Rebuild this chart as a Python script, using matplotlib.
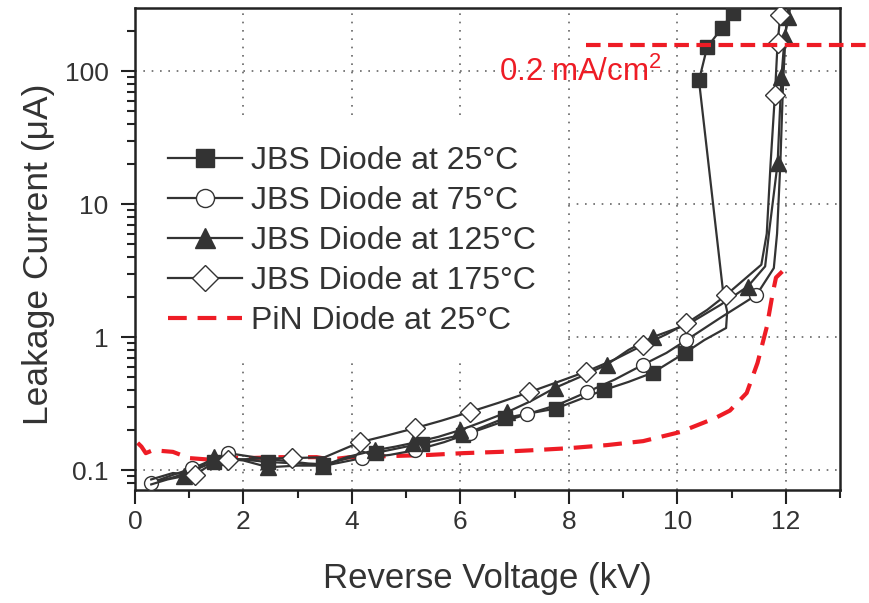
import numpy as np
import matplotlib
matplotlib.use("Agg")
import matplotlib.pyplot as plt
from matplotlib.ticker import LogLocator, NullFormatter

plt.rcParams["font.family"] = ["Liberation Sans", "DejaVu Sans"]
plt.rcParams["mathtext.fontset"] = "custom"
plt.rcParams["mathtext.rm"] = "Liberation Sans"
plt.rcParams["mathtext.it"] = "Liberation Sans:italic"

# reverse voltage (kV) / leakage current (uA)
v25 = [0.30, 0.70, 1.05, 1.45, 1.80, 2.45, 3.00, 3.47, 4.00, 4.45, 5.00, 5.30, 6.05, 6.40, 6.82,
       7.30, 7.76, 8.20, 8.65, 9.10, 9.55, 10.14, 10.50, 10.90, 10.92, 10.85, 10.40, 10.55, 10.82,
       11.02, 11.30]
i25 = [0.080, 0.088, 0.098, 0.115, 0.122, 0.115, 0.112, 0.109, 0.125, 0.135, 0.150, 0.158, 0.185,
       0.210, 0.246, 0.268, 0.290, 0.340, 0.400, 0.460, 0.540, 0.760, 0.950, 1.17, 1.55, 2.10,
       85, 151, 210, 275, 340]
m25 = [3, 5, 7, 9, 11, 12, 14, 16, 18, 20, 21, 26, 27, 28, 29, 30]

v75 = [0.29, 0.70, 1.06, 1.40, 1.72, 2.20, 2.70, 3.20, 3.60, 4.19, 4.70, 5.17, 5.70, 6.18, 6.70,
       7.23, 7.80, 8.33, 8.85, 9.37, 9.80, 10.17, 10.80, 11.46, 11.78, 11.84, 11.90, 11.95, 12.00,
       12.05]
i75 = [0.080, 0.092, 0.103, 0.118, 0.134, 0.125, 0.118, 0.112, 0.110, 0.123, 0.130, 0.141, 0.162,
       0.190, 0.225, 0.263, 0.310, 0.385, 0.480, 0.620, 0.760, 0.950, 1.40, 2.07, 3.3, 6.0, 20,
       80, 200, 320]
m75 = [0, 2, 4, 9, 11, 13, 15, 17, 19, 21, 23]

v125 = [0.30, 0.60, 0.90, 1.20, 1.45, 2.00, 2.46, 3.00, 3.47, 3.90, 4.43, 4.80, 5.13, 5.60, 6.00,
        6.40, 6.86, 7.30, 7.74, 8.20, 8.70, 9.10, 9.55, 10.20, 10.80, 11.30, 11.62, 11.70, 11.85,
        11.92, 11.98, 12.05, 12.10]
i125 = [0.078, 0.085, 0.090, 0.105, 0.125, 0.118, 0.105, 0.108, 0.108, 0.125, 0.141, 0.150, 0.160,
        0.178, 0.200, 0.230, 0.272, 0.330, 0.414, 0.500, 0.620, 0.800, 1.00, 1.25, 1.75, 2.40,
        3.4, 6.5, 20.3, 90, 180, 255, 330]
m125 = [2, 4, 6, 8, 10, 12, 14, 16, 18, 20, 22, 25, 28, 29, 30, 31]

v175 = [0.30, 0.70, 1.10, 1.40, 1.72, 2.30, 2.90, 3.50, 4.15, 4.65, 5.17, 5.65, 6.17, 6.70, 7.27,
        7.80, 8.32, 8.85, 9.37, 9.80, 10.17, 10.55, 10.90, 11.55, 11.65, 11.72, 11.80, 11.85,
        11.90, 11.95]
i175 = [0.085, 0.095, 0.092, 0.110, 0.119, 0.122, 0.123, 0.125, 0.162, 0.182, 0.207, 0.235,
        0.273, 0.320, 0.385, 0.460, 0.550, 0.680, 0.870, 1.05, 1.27, 1.60, 2.07, 3.5, 6.0, 20,
        66, 163, 263, 330]
m175 = [2, 4, 6, 8, 10, 12, 14, 16, 18, 20, 22, 26, 27, 28]

vpin = [0.05, 0.12, 0.20, 0.33, 0.70, 1.00, 1.35, 1.57, 2.07, 2.70, 3.35, 3.60, 3.97, 4.60, 5.44,
        6.05, 6.73, 7.34, 8.00, 8.70, 9.37, 10.05, 10.70, 10.97, 11.28, 11.48, 11.65, 11.76,
        11.82, 12.00]
ipin = [0.160, 0.150, 0.134, 0.141, 0.137, 0.123, 0.120, 0.125, 0.123, 0.125, 0.125, 0.120, 0.125,
        0.127, 0.130, 0.134, 0.137, 0.141, 0.146, 0.154, 0.165, 0.193, 0.246, 0.280, 0.380, 0.640,
        1.19, 2.14, 2.80, 3.30]

limit_current = 157          # 0.2 mA/cm^2 criterion
limit_span = (8.32, 13.55)
limit_text = "0.2 mA/cm$^2$"
limit_text_pos = (6.72, 98)

labels = ["JBS Diode at 25°C", "JBS Diode at 75°C", "JBS Diode at 125°C",
          "JBS Diode at 175°C", "PiN Diode at 25°C"]
x_ticks = [0, 2, 4, 6, 8, 10, 12]
y_ticks = [0.1, 1, 10, 100]
y_tick_labels = ["0.1", "1", "10", "100"]

DARK = "#333333"
RED = "#ee1c25"

fig = plt.figure(figsize=(8.69, 6.03), dpi=100)
ax = fig.add_axes([0.1553, 0.1874, 0.8113, 0.7993])

line_kw = dict(color=DARK, lw=1.6, mec=DARK, mew=1.0, zorder=3)
ax.plot(v25, i25, marker="s", ms=9.5, mfc=DARK, markevery=m25, label=labels[0], **line_kw)
ax.plot(v75, i75, marker="o", ms=10, mfc="white", markevery=m75, label=labels[1], **line_kw)
ax.plot(v125, i125, marker="^", ms=11, mfc=DARK, markevery=m125, label=labels[2], **line_kw)
ax.plot(v175, i175, marker="D", ms=10, mfc="white", markevery=m175, label=labels[3], **line_kw)
ax.plot(vpin, ipin, color=RED, lw=3, dashes=(4.5, 2.6), label=labels[4], zorder=2)

ax.plot(limit_span, [limit_current] * 2, color=RED, lw=3, dashes=(3.5, 1.8),
        clip_on=False, zorder=4)
ax.text(*limit_text_pos, limit_text, color=RED, fontsize=22.5, va="center", ha="left")

ax.set_yscale("log")
ax.set_xlim(0, 13)
ax.set_ylim(0.0708, 298)
ax.set_xticks(x_ticks)
ax.set_xticks(np.arange(0, 14, 1), minor=True)
ax.set_yticks(y_ticks, labels=y_tick_labels)
ax.yaxis.set_minor_locator(LogLocator(base=10, subs=np.arange(2, 10)))
ax.yaxis.set_minor_formatter(NullFormatter())

ax.tick_params(which="both", direction="out", colors="#222222", labelcolor=DARK,
               labelsize=19, width=1.5, top=False, right=False)
ax.tick_params(which="major", length=10)
ax.tick_params(which="minor", length=5.5)
ax.tick_params(axis="x", which="major", pad=4.5)
ax.tick_params(axis="y", which="major", pad=9)
for s in ax.spines.values():
    s.set_linewidth(1.8)
    s.set_color("#222222")

ax.grid(True, which="major", color="#666666", lw=1.2, linestyle=(0, (1, 4)))
ax.set_axisbelow(True)

ax.set_xlabel("Reverse Voltage (kV)", fontsize=25, color=DARK, labelpad=20)
ax.set_ylabel("Leakage Current (μA)", fontsize=25.5, color=DARK, labelpad=6)
ax.yaxis.set_label_coords(-0.113, 0.49)

leg = ax.legend(loc="upper left", bbox_to_anchor=(0.011, 0.766), borderaxespad=0,
                fontsize=23, frameon=True, fancybox=False, edgecolor="none",
                facecolor="white", framealpha=1, handlelength=2.3, handletextpad=0.3,
                labelspacing=0.31, borderpad=0.8, markerscale=1.3)
for t in leg.get_texts():
    t.set_color(DARK)

fig.savefig("out.png", dpi=100)
